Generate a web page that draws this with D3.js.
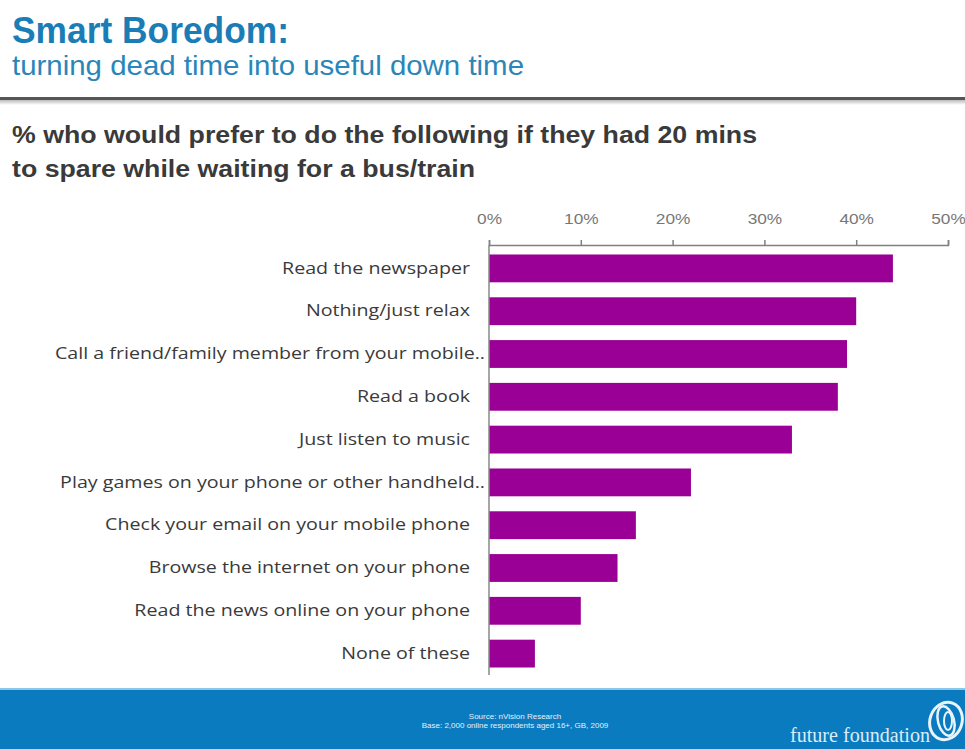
<!DOCTYPE html>
<html><head><meta charset="utf-8">
<script src="https://cdn.jsdelivr.net/npm/d3@7/dist/d3.min.js"></script>
<style>
html,body{margin:0;padding:0;background:#fff;}
svg{display:block;}
</style></head>
<body>
<svg id="chart" width="965" height="749"></svg>
<script>
const categories = [
  "Read the newspaper",
  "Nothing/just relax",
  "Call a friend/family member from your mobile..",
  "Read a book",
  "Just listen to music",
  "Play games on your phone or other handheld..",
  "Check your email on your mobile phone",
  "Browse the internet on your phone",
  "Read the news online on your phone",
  "None of these"
];
const values = [44, 40, 39, 38, 33, 22, 16, 14, 10, 5];
const tickValues = [0, 10, 20, 30, 40, 50];
const titleText = "Smart Boredom:";
const subtitleText = "turning dead time into useful down time";
const questionLines = ["% who would prefer to do the following if they had 20 mins", "to spare while waiting for a bus/train"];
const sourceLines = ["Source: nVision Research", "Base: 2,000 online respondents aged 16+, GB, 2009"];
const brandText = "future foundation";

const svg = d3.select("#chart");
const W = 965, H = 749;

function stretch(sel, k) {
  sel.each(function () {
    const w = this.getComputedTextLength();
    d3.select(this).attr("textLength", w * k).attr("lengthAdjust", "spacingAndGlyphs");
  });
}
function fitTo(node, target) {
  return target / node.getComputedTextLength();
}

// header
const title = svg.append("text").attr("x", 12).attr("y", 43)
  .attr("font-family", "Liberation Sans, Arial, sans-serif").attr("font-weight", "bold")
  .attr("font-size", 36).attr("fill", "#1b7db6").text(titleText);
stretch(title, fitTo(title.node(), 277));
const sub = svg.append("text").attr("x", 12).attr("y", 75)
  .attr("font-family", "Liberation Sans, Arial, sans-serif")
  .attr("font-size", 28).attr("fill", "#2a86b8").text(subtitleText);
stretch(sub, fitTo(sub.node(), 512));

const defs = svg.append("defs");
const g1 = defs.append("linearGradient").attr("id", "shade").attr("x1", 0).attr("x2", 0).attr("y1", 0).attr("y2", 1);
g1.append("stop").attr("offset", 0).attr("stop-color", "#bbbbbb");
g1.append("stop").attr("offset", 1).attr("stop-color", "#ffffff");
svg.append("rect").attr("x", 0).attr("y", 100).attr("width", W).attr("height", 5).attr("fill", "url(#shade)");
svg.append("rect").attr("x", 0).attr("y", 97).attr("width", W).attr("height", 3).attr("fill", "#555");

const q = svg.append("g").selectAll("text").data(questionLines).join("text")
  .attr("x", 12).attr("y", (d, i) => 143 + i * 34)
  .attr("font-family", "Liberation Sans, Arial, sans-serif").attr("font-weight", "bold")
  .attr("font-size", 23).attr("fill", "#3a3a3a").text(d => d);
stretch(q, fitTo(q.nodes()[0], 745));

// chart
const x = d3.scaleLinear().domain([0, 50]).range([489, 948]);
const y = d3.scaleBand().domain(categories).range([247, 675]).paddingInner(0.35).paddingOuter(0.175);

const xAxis = svg.append("g").attr("transform", "translate(0,245)")
  .call(d3.axisTop(x).tickValues(tickValues).tickFormat(d => d + "%").tickSize(5).tickPadding(16));
xAxis.select(".domain").attr("stroke", "#808080").attr("stroke-width", 1.5);
xAxis.selectAll(".tick line").attr("stroke", "#808080").attr("stroke-width", 1.5);
const tl = xAxis.selectAll(".tick text").attr("font-family", "Liberation Sans, Arial, sans-serif")
  .attr("font-size", 15).attr("fill", "#777");
stretch(tl, 1.15);

svg.append("g").selectAll("rect").data(values).join("rect")
  .attr("x", x(0)).attr("y", (d, i) => y(categories[i]))
  .attr("width", d => x(d) - x(0)).attr("height", y.bandwidth())
  .attr("fill", "#9a0095");

const yAxis = svg.append("g").attr("transform", `translate(${x(0)},0)`)
  .call(d3.axisLeft(y).tickSize(0).tickPadding(19));
yAxis.select(".domain").attr("d", `M0,245V675`).attr("stroke", "#888").attr("stroke-width", 1.5);
const lab = yAxis.selectAll(".tick text").attr("font-family", "Open Sans, sans-serif")
  .attr("font-size", 16).attr("fill", "#3a3a3a");
lab.filter(d => d.endsWith("..")).attr("dx", 15);
const callNode = lab.filter(d => d.startsWith("Call")).node();
stretch(lab, fitTo(callNode, 430));

// footer
svg.append("rect").attr("x", 0).attr("y", 689).attr("width", W).attr("height", 60).attr("fill", "#0b7bc0");
svg.append("rect").attr("x", 0).attr("y", 688).attr("width", W).attr("height", 2).attr("fill", "#8cc6ea");
svg.append("g").selectAll("text").data(sourceLines).join("text")
  .attr("x", 515).attr("y", (d, i) => 719 + i * 9).attr("text-anchor", "middle")
  .attr("font-family", "Liberation Sans, Arial, sans-serif").attr("font-size", 8)
  .attr("fill", "#e3f1fa").text(d => d);
const brand = svg.append("text").attr("x", 790).attr("y", 742)
  .attr("font-family", "Liberation Serif, serif").attr("font-size", 20)
  .attr("fill", "#dcecf7").text(brandText);
stretch(brand, fitTo(brand.node(), 140));
const logo = svg.append("g").attr("transform", "translate(946,721)").attr("fill", "none").attr("stroke", "#e8f3fb");
logo.append("ellipse").attr("rx", 16).attr("ry", 19).attr("stroke-width", 3).attr("transform", "rotate(20)");
logo.append("ellipse").attr("rx", 8).attr("ry", 15).attr("stroke-width", 2.5).attr("transform", "rotate(-15)");
logo.append("ellipse").attr("cx", 2).attr("rx", 4).attr("ry", 9).attr("stroke-width", 2);
</script>
</body></html>
